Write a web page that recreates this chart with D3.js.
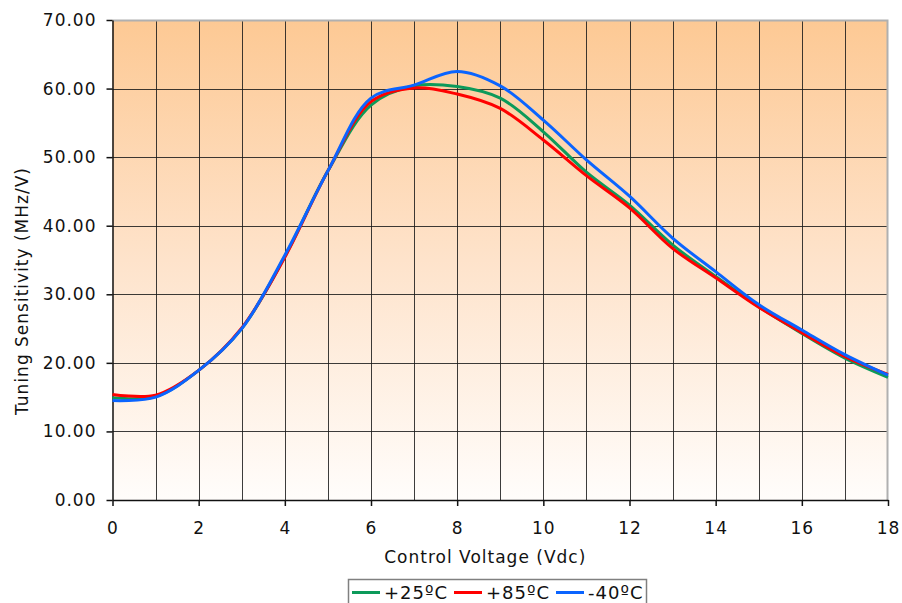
<!DOCTYPE html>
<html><head><meta charset="utf-8">
<script src="https://cdn.jsdelivr.net/npm/d3@7"></script>
<style>body{margin:0;background:#fff}svg{display:block}</style>
</head><body>
<script>
const volts = [0,1,2,3,4,5,6,7,8,9,10,11,12,13,14,15,16,17,18];
const s25 = [14.9,15.1,18.9,25.0,35.5,48.0,57.6,60.4,60.3,58.6,53.7,47.8,43.0,37.2,32.6,28.2,24.3,20.7,17.9];
const s85 = [15.4,15.3,18.9,25.1,35.4,48.0,58.1,60.1,59.2,57.1,52.5,47.3,42.6,36.7,32.4,28.1,24.4,20.9,18.3];
const sm40 = [14.5,15.0,18.9,25.0,35.7,48.0,58.6,60.5,62.5,60.4,55.4,49.6,44.3,38.2,33.3,28.5,24.8,21.2,18.2];
const seriesNames = ["+25ºC","+85ºC","-40ºC"];
const seriesColors = ["#0c9a5a","#ff0000","#0a64ff"];
const yTicks = [0,10,20,30,40,50,60,70];
const xTicks = [0,2,4,6,8,10,12,14,16,18];

const W=902,H=603;
const m={l:112.5,t:20,r:14,b:103};
const svg=d3.select("body").append("svg").attr("width",W).attr("height",H);
const x=d3.scaleLinear().domain([0,18]).range([m.l,W-m.r]);
const y=d3.scaleLinear().domain([0,70]).range([H-m.b,m.t]);
const font="DejaVu Sans, Verdana, sans-serif";
const LS="1px";

const defs=svg.append("defs");
const g=defs.append("linearGradient").attr("id","bg").attr("x1",0).attr("y1",0).attr("x2",0).attr("y2",1);
g.append("stop").attr("offset","0%").attr("stop-color","#fdc994");
g.append("stop").attr("offset","50%").attr("stop-color","#fee3cb");
g.append("stop").attr("offset","100%").attr("stop-color","#fffdfb");
svg.append("rect").attr("x",x(0)).attr("y",y(70)).attr("width",x(18)-x(0)).attr("height",y(0)-y(70)).attr("fill","url(#bg)");

// grid
svg.append("g").selectAll("line").data(d3.range(1,18)).join("line")
  .attr("x1",d=>Math.round(x(d))+0.5).attr("x2",d=>Math.round(x(d))+0.5)
  .attr("y1",y(70)).attr("y2",y(0)).attr("stroke","#1a1a1a").attr("stroke-opacity",0.85);
svg.append("g").selectAll("line").data(yTicks.filter(d=>d>0&&d<70)).join("line")
  .attr("x1",x(0)).attr("x2",x(18))
  .attr("y1",d=>Math.round(y(d))+0.5).attr("y2",d=>Math.round(y(d))+0.5).attr("stroke","#1a1a1a").attr("stroke-opacity",0.85);
// top/right border
svg.append("path").attr("d",`M${x(0)},${y(70)+0.5}H${x(18)-0.5}V${y(0)}`).attr("fill","none").attr("stroke","#b0b0b0").attr("stroke-width",2);

// axes
const xa=svg.append("g").attr("transform",`translate(0,${y(0)})`)
  .call(d3.axisBottom(x).tickValues(xTicks).tickSize(6).tickPadding(16).tickSizeOuter(0));
const ya=svg.append("g").attr("transform",`translate(${x(0)},0)`)
  .call(d3.axisLeft(y).tickValues(yTicks).tickSize(6).tickPadding(10).tickSizeOuter(0).tickFormat(d3.format(".2f")));
[xa,ya].forEach(a=>{a.selectAll("text").attr("font-family",font).attr("font-size",17).attr("letter-spacing",LS).attr("fill","#111");
  a.selectAll("line,path").attr("stroke","#111").attr("stroke-width",1.5);});

// lines
const all=[s25,s85,sm40];
const line=d3.line().x((d,i)=>x(volts[i])).y(d=>y(d)).curve(d3.curveCatmullRom.alpha(0.5));
svg.append("g").selectAll("path").data(all).join("path")
  .attr("d",d=>line(d)).attr("fill","none").attr("stroke",(d,i)=>seriesColors[i]).attr("stroke-width",3).attr("stroke-linejoin","round");

// titles
svg.append("text").attr("x",(x(0)+x(18))/2-15).attr("y",563).attr("text-anchor","middle")
  .attr("font-family",font).attr("font-size",17).attr("letter-spacing",LS).attr("fill","#111").text("Control Voltage (Vdc)");
svg.append("text").attr("transform",`translate(28,291) rotate(-90)`).attr("text-anchor","middle")
  .attr("font-family",font).attr("font-size",17).attr("letter-spacing",LS).attr("fill","#111").text("Tuning Sensitivity (MHz/V)");

// legend
const lg=svg.append("g");
lg.append("rect").attr("x",348.5).attr("y",579.5).attr("width",298).attr("height",32).attr("fill","#fff").attr("stroke","#808080").attr("stroke-width",1.5);
const lx=[352,454,556];
seriesNames.forEach((n,i)=>{
  lg.append("line").attr("x1",lx[i]).attr("x2",lx[i]+28).attr("y1",592.5).attr("y2",592.5).attr("stroke",seriesColors[i]).attr("stroke-width",3);
  lg.append("text").attr("x",lx[i]+32).attr("y",599).attr("font-family",font).attr("font-size",18).attr("letter-spacing",LS).attr("fill","#111").text(n);
});
</script>
</body></html>
